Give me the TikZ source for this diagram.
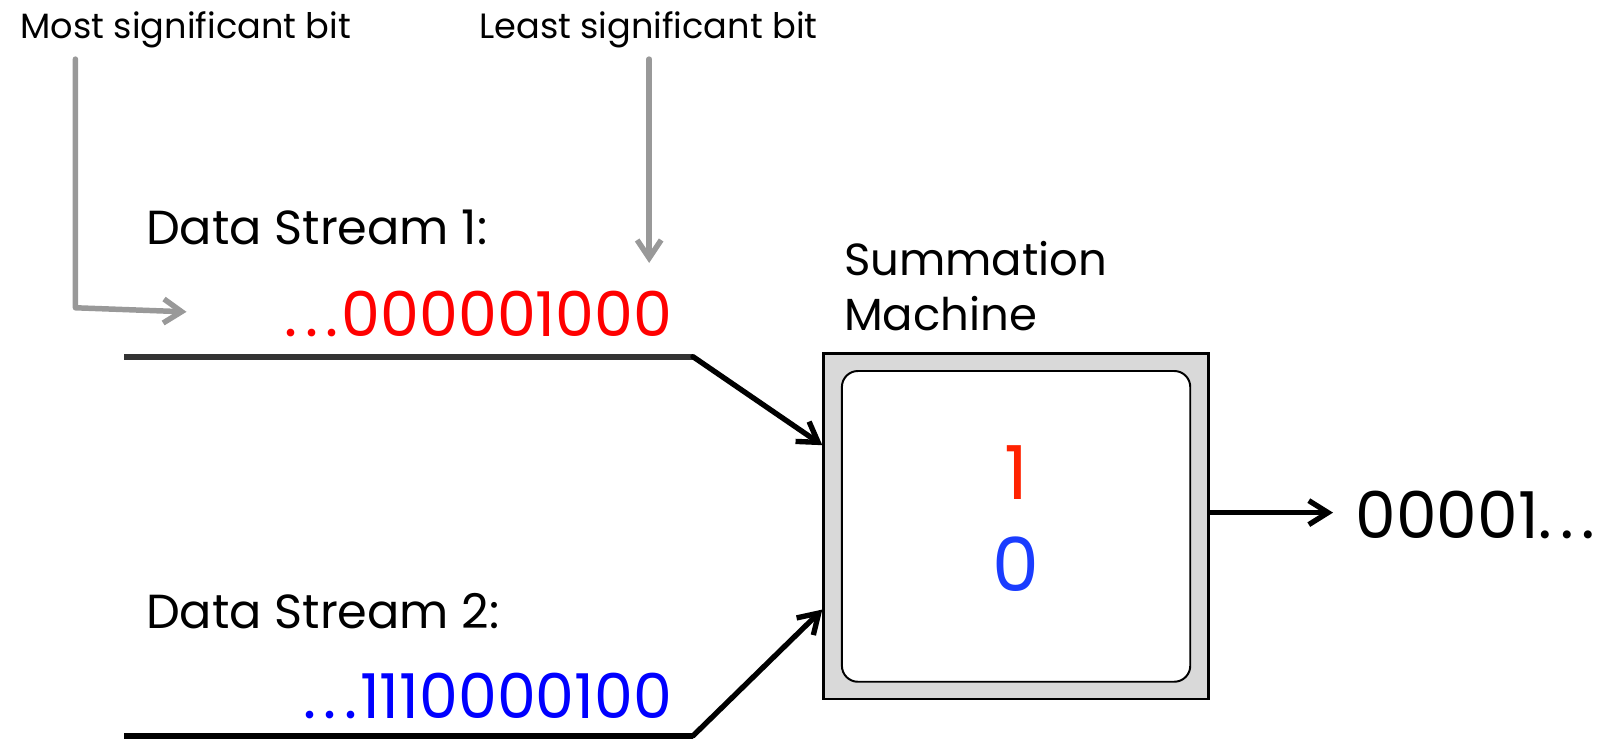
\documentclass[tikz,border=0pt]{standalone}
\usepackage{fontspec}
\setmainfont{Poppins}
\usetikzlibrary{arrows.meta,positioning}
\definecolor{hintgray}{HTML}{999999}
\definecolor{linegray}{HTML}{333333}
\definecolor{boxgray}{HTML}{D9D9D9}
\definecolor{bitred}{HTML}{FF0000}
\definecolor{bitblue}{HTML}{0000FF}
\definecolor{sumred}{HTML}{FF2200}
\definecolor{sumblue}{HTML}{1A3CFF}
\newcommand{\smalltxt}{\fontsize{25}{28}\selectfont}
\newcommand{\midtxt}{\fontsize{34}{39}\selectfont}
\newcommand{\titletxt}{\fontsize{32}{39.5}\selectfont}
\newcommand{\bigtxt}{\fontsize{44}{48}\selectfont}
\newcommand{\outtxt}{\fontsize{46}{50}\selectfont}
\newcommand{\sumtxt}{\fontsize{53}{58}\selectfont}
\newcommand{\bitdots}{.\kern0.12em.\kern0.12em.\kern0.05em}
\begin{document}
\begin{tikzpicture}[x=0.025478cm,y=-0.025478cm,
	hint/.style={draw=hintgray,line width=3.9pt,line cap=round,line join=round,-{Straight Barb[length=0.45cm,width=0.6cm]}},
	feed/.style={draw=black,line width=3.8pt,line cap=round,-{Straight Barb[length=0.48cm,width=0.6cm]}},
	stream/.style={line width=4.3pt}]
	\useasboundingbox (0,0) rectangle (1568,727.1);

	% labels on top
	\node[anchor=base west,font=\smalltxt,inner sep=0] (msb) at (20,38) {Most significant bit};
	\node[anchor=base west,font=\smalltxt,inner sep=0] (lsb) at (470,38) {Least significant bit};
	\coordinate (msbtip) at (183,306);
	\coordinate (lsbtip) at (637,258);
	\draw[hint] (74,58) -- (74,302) -- (msbtip);
	\draw[hint] (637,58) -- (lsbtip);

	% data streams
	\node[anchor=base west,font=\midtxt,inner sep=0] (ds1) at (143,240) {Data Stream 1:};
	\node[anchor=base east,font=\bigtxt,inner sep=0,text=bitred] (bits1) at (660,330) {\bitdots000001000};
	\node[anchor=base west,font=\midtxt,inner sep=0] (ds2) at (143,617) {Data Stream 2:};
	\node[anchor=base east,font=\bigtxt,inner sep=0,text=bitblue] (bits2) at (660,705) {\bitdots1110000100};
	\draw[stream,draw=linegray] (122,350) -- (680,350) coordinate (end1);
	\draw[stream,draw=black] (122,722) -- (680,722) coordinate (end2);

	% summation machine
	\node[draw,fill=boxgray,line width=1.7pt,minimum width=9.63cm,minimum height=8.64cm] (sum) at (997,516.5) {};
	\node[draw,fill=white,line width=1.4pt,rounded corners=0.4cm,minimum width=8.71cm,minimum height=7.77cm] (inner) at (sum.center) {};
	\node[anchor=north west,font=\titletxt,align=left,inner sep=0] (title) at (828,236) {Summation\\Machine};
	\node[anchor=base,font=\sumtxt,inner sep=0,text=sumred] (one) at (997,490) {1};
	\node[anchor=base,font=\sumtxt,inner sep=0,text=sumblue] (zero) at (997,580) {0};
	\draw[feed] (end1) -- ([yshift=2.03cm]sum.west);
	\draw[feed] (end2) -- ([yshift=-2.08cm]sum.west);

	% output
	\coordinate (outtip) at (1308,503);
	\draw[feed] (sum.east |- outtip) -- (outtip);
	\node[anchor=base west,font=\outtxt,inner sep=0] (out) at (1330,528) {00001\bitdots};
\end{tikzpicture}
\end{document}
